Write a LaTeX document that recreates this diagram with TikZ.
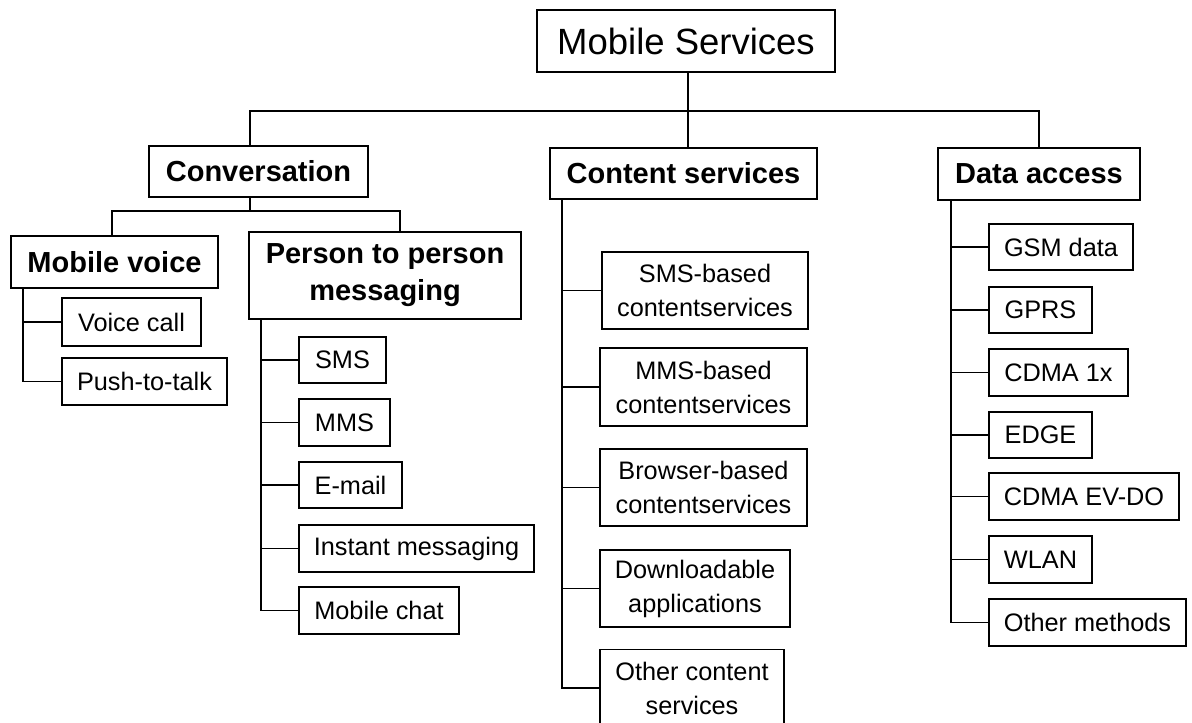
\documentclass[tikz,border=0pt]{standalone}
\usepackage{fontspec}
\setmainfont{Liberation Sans}
\begin{document}
\begin{tikzpicture}[x=1pt,y=-1pt,line width=1.7pt,
  box/.style={draw,rectangle,inner sep=0pt,align=center},
  rootbox/.style={box,font=\fontsize{36.5}{42}\selectfont},
  headbox/.style={box,font=\bfseries\fontsize{29}{37}\selectfont},
  leafbox/.style={box,font=\fontsize{25.3}{34}\selectfont},
  conn/.style={line cap=rect}]
\useasboundingbox (0,0) rectangle (1192,723);
\clip (0,0) rectangle (1192,723);

% root and first level
\node[rootbox,minimum width=298,minimum height=62] (ms) at (686,41) {Mobile Services};
\node[headbox,minimum width=219,minimum height=51] (conv) at (258.5,171.5) {Conversation};
\node[headbox,minimum width=267,minimum height=51] (cs) at (683.5,173.5) {Content services};
\node[headbox,minimum width=202,minimum height=52] (da) at (1039,174) {Data access};

% conversation branch
\node[headbox,minimum width=207,minimum height=52] (mv) at (114.5,262) {Mobile voice};
\node[headbox,minimum width=272,minimum height=87] (pp) at (385,275.5) {Person to person\\messaging};
\node[leafbox,minimum width=139,minimum height=48] (vc) at (131.5,322) {Voice call};
\node[leafbox,minimum width=165,minimum height=47] (ptt) at (144.5,381.5) {Push-to-talk};
\node[leafbox,minimum width=87,minimum height=46] (sms) at (342.5,360) {SMS};
\node[leafbox,minimum width=91,minimum height=47] (mms) at (344.5,422.5) {MMS};
\node[leafbox,minimum width=103,minimum height=46] (email) at (350.5,485) {E-mail};
\node[leafbox,minimum width=235,minimum height=47] (im) at (416.5,548.5) {Instant messaging};
\node[leafbox,minimum width=160,minimum height=47] (chat) at (379,610.5) {Mobile chat};

% content services branch
\node[leafbox,minimum width=206,minimum height=77] (smsb) at (705,290.5) {SMS-based\\contentservices};
\node[leafbox,minimum width=207,minimum height=78] (mmsb) at (703.5,387) {MMS-based\\contentservices};
\node[leafbox,minimum width=207,minimum height=77] (brb) at (703.5,487.5) {Browser-based\\contentservices};
\node[leafbox,minimum width=190,minimum height=77] (dl) at (695,588.5) {Downloadable\\applications};
\node[leafbox,minimum width=184,minimum height=77] (oc) at (692,688) {Other content\\services};

% data access branch
\node[leafbox,minimum width=144,minimum height=46] (gsm) at (1061,247) {GSM data};
\node[leafbox,minimum width=103,minimum height=46] (gprs) at (1040.5,310) {GPRS};
\node[leafbox,minimum width=139,minimum height=47] (cdma) at (1058.5,372.5) {CDMA 1x};
\node[leafbox,minimum width=103,minimum height=46] (edge) at (1040.5,435) {EDGE};
\node[leafbox,minimum width=190,minimum height=47] (evdo) at (1084,496.5) {CDMA EV-DO};
\node[leafbox,minimum width=103,minimum height=47] (wlan) at (1040.5,559.5) {WLAN};
\node[leafbox,minimum width=197,minimum height=47] (other) at (1087.5,622.5) {Other methods};

% bus coordinates
\coordinate (busL) at (250,111);
\coordinate (busR) at (1039,111);
\coordinate (subL) at (112,211);
\coordinate (subR) at (400,211);
\coordinate (subM) at (250,211);

% top level connectors
\draw[conn] (ms.south -| 688,0) -- (cs.north -| 688,0);
\draw[conn] (conv.north -| busL) -- (busL) -- (busR) -- (da.north -| busR);

% conversation connectors
\draw[conn] (conv.south -| subM) -- (subM);
\draw[conn] (mv.north -| subL) -- (subL) -- (subR) -- (pp.north -| subR);

% child ladders
\foreach \c in {vc,ptt} \draw ([xshift=13]mv.south west) |- (\c.west);
\foreach \c in {sms,mms,email,im,chat} \draw ([xshift=13]pp.south west) |- (\c.west);
\foreach \c in {smsb,mmsb,brb,dl,oc} \draw ([xshift=13]cs.south west) |- (\c.west);
\foreach \c in {gsm,gprs,cdma,edge,evdo,wlan,other} \draw ([xshift=14]da.south west) |- (\c.west);
\end{tikzpicture}
\end{document}
